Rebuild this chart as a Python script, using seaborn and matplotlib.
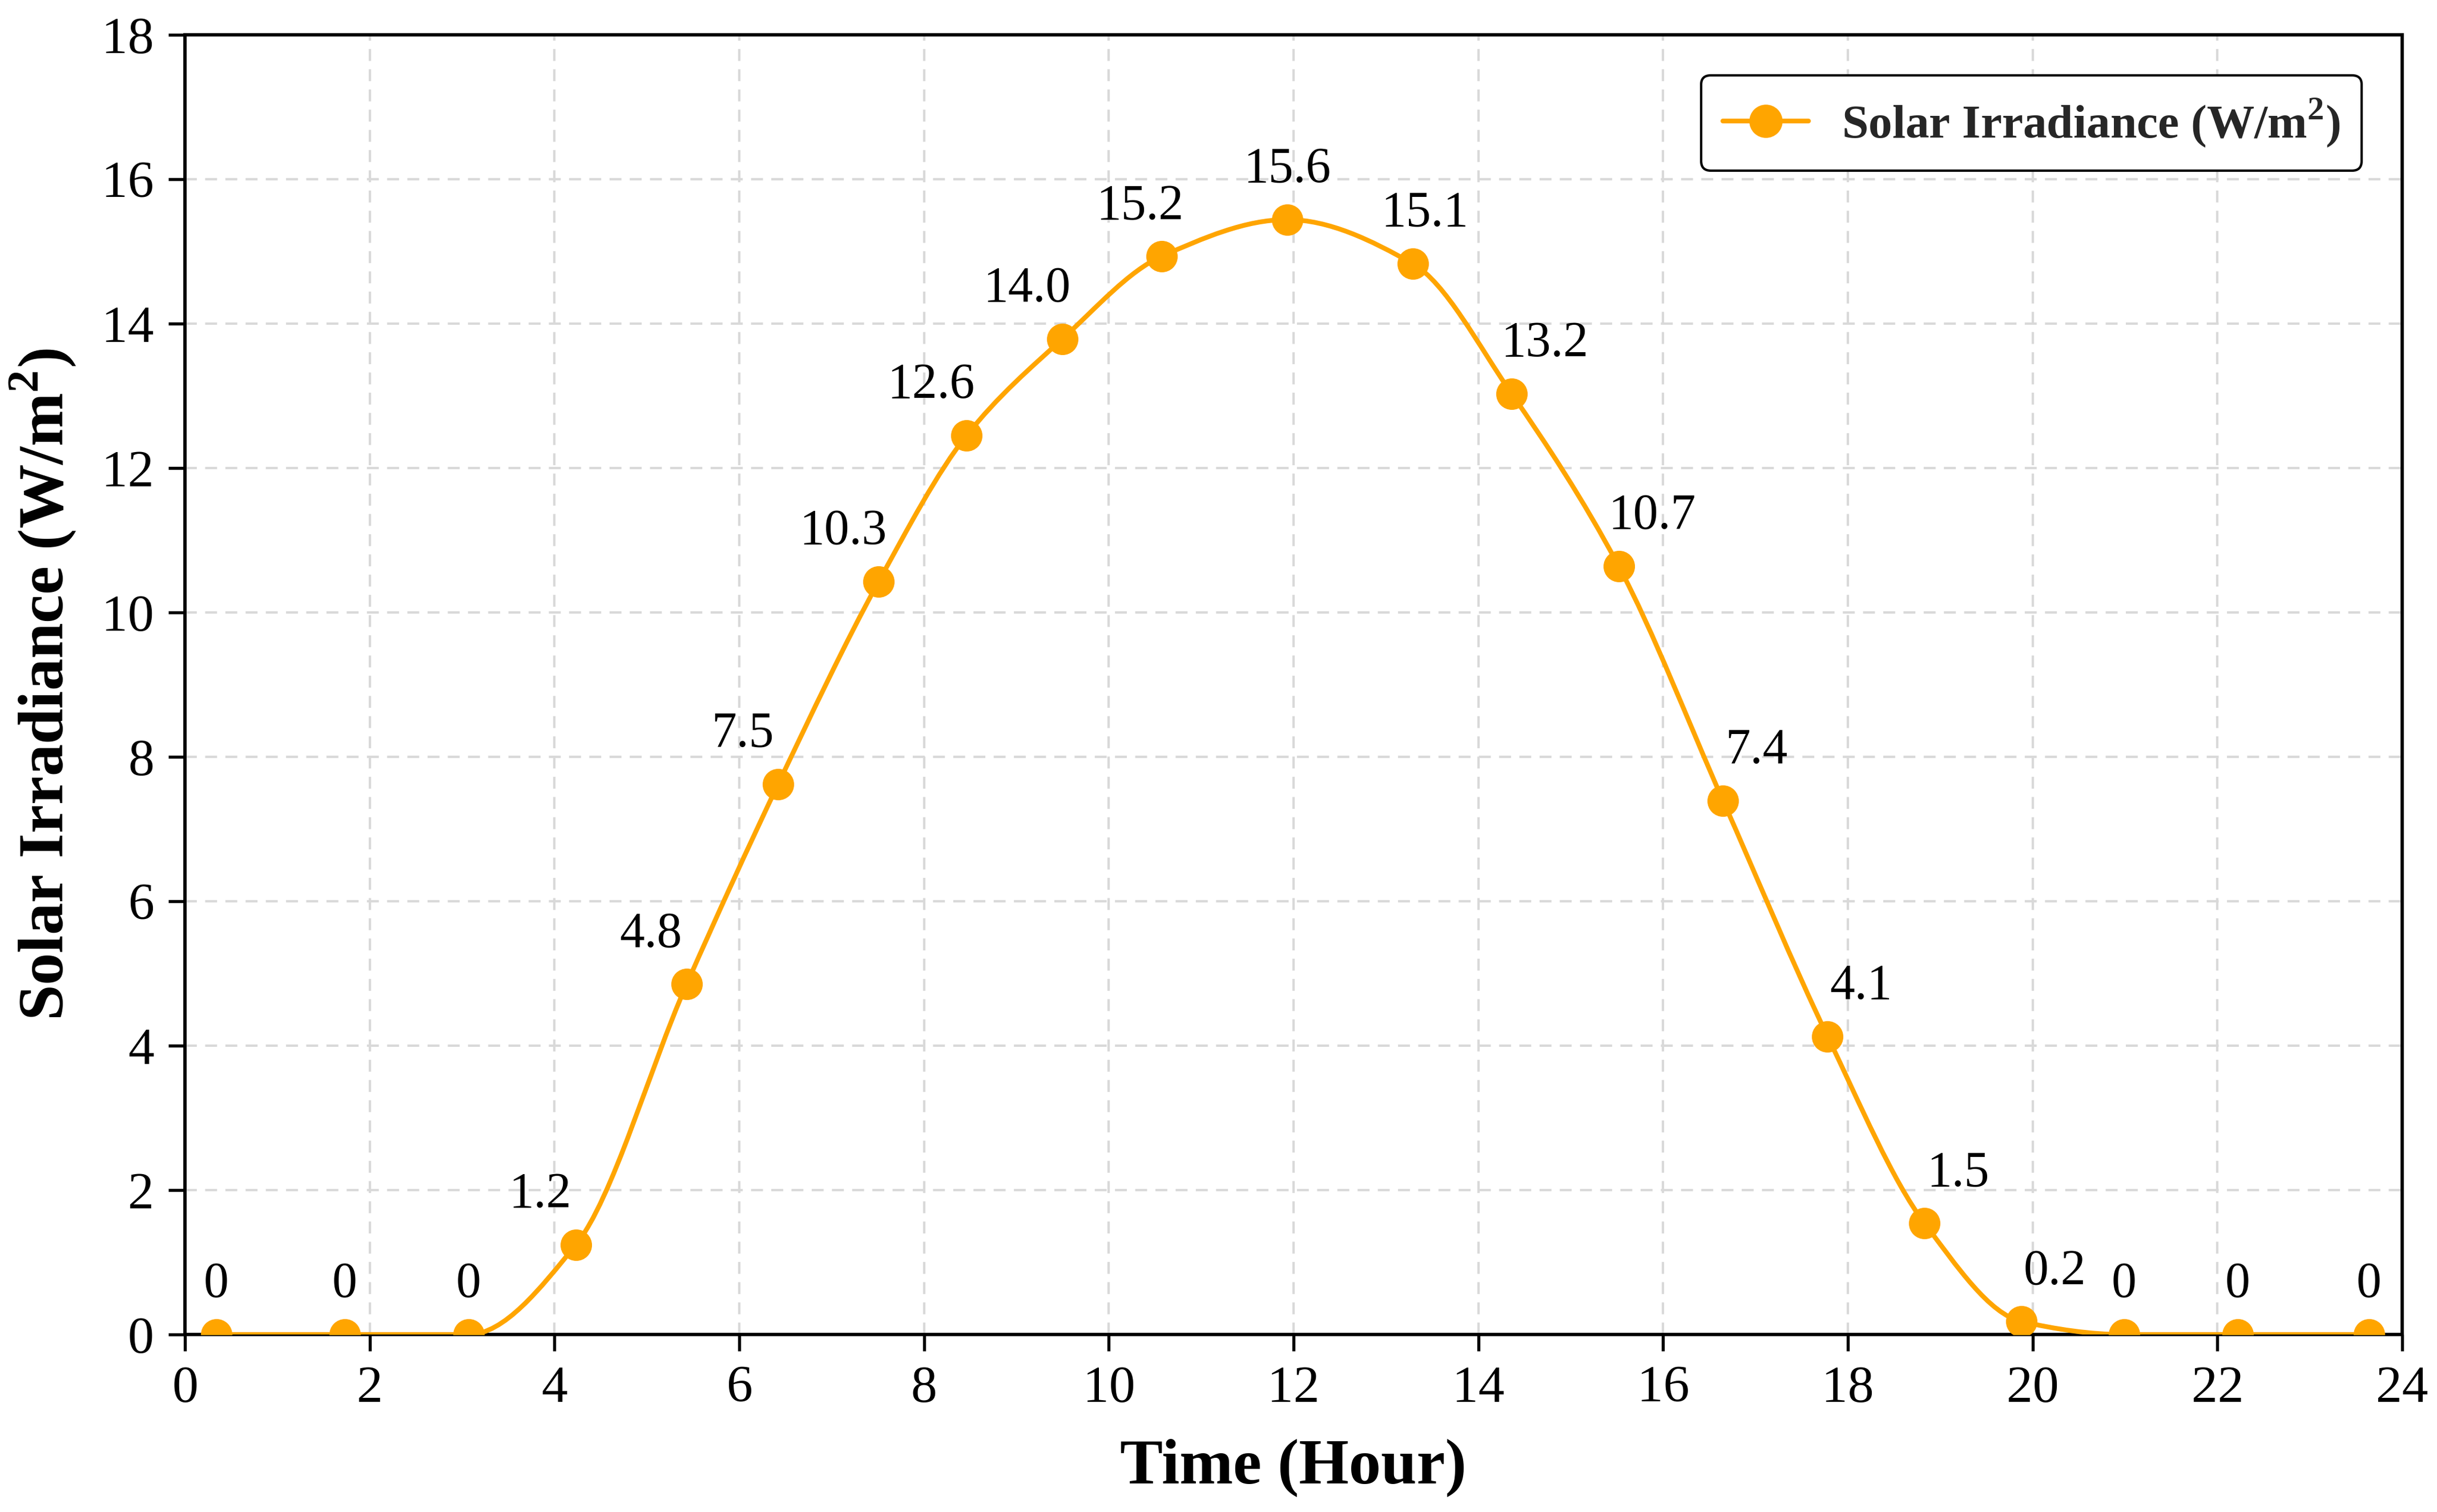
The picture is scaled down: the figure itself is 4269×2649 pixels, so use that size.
import numpy as np
import pandas as pd
import matplotlib
matplotlib.use("Agg")
import matplotlib.pyplot as plt
import seaborn as sns
from matplotlib.path import Path
from matplotlib.patches import PathPatch
from matplotlib.lines import Line2D

# values
hours = [0.34, 1.73, 3.07, 4.23, 5.43, 6.42, 7.51, 8.46, 9.50, 10.57, 11.93,
         13.29, 14.36, 15.52, 16.65, 17.78, 18.83, 19.88, 20.99, 22.22, 23.64]
irradiance = [0, 0, 0, 1.24, 4.85, 7.62, 10.43, 12.45, 13.79, 14.93, 15.44,
              14.83, 13.03, 10.64, 7.39, 4.13, 1.54, 0.18, 0, 0, 0]
point_labels = ["0", "0", "0", "1.2", "4.8", "7.5", "10.3", "12.6", "14.0", "15.2", "15.6",
                "15.1", "13.2", "10.7", "7.4", "4.1", "1.5", "0.2", "0", "0", "0"]
x_ticks = list(range(0, 25, 2))
y_ticks = list(range(0, 19, 2))
series_name = r"Solar Irradiance (W/m$^{\mathbf{2}}$)"

ORANGE = "#FFA500"
FONT = ["Liberation Serif", "DejaVu Serif"]

df = pd.DataFrame({"hour": hours, "irr": irradiance, "label": point_labels})


def pchip_slopes(x, y):
    """Monotone cubic slopes, so the drawn curve stays flat where the data is flat."""
    x = np.asarray(x, float)
    y = np.asarray(y, float)
    h = np.diff(x)
    delta = np.diff(y) / h
    d = np.zeros_like(y)
    for k in range(1, len(x) - 1):
        if delta[k - 1] * delta[k] > 0:
            w1 = 2 * h[k] + h[k - 1]
            w2 = h[k] + 2 * h[k - 1]
            d[k] = (w1 + w2) / (w1 / delta[k - 1] + w2 / delta[k])
    d[0] = delta[0]
    d[-1] = delta[-1]
    return d


def smooth_path(x, y):
    # cubic hermite segments drawn as bezier curves
    d = pchip_slopes(x, y)
    verts = [(x[0], y[0])]
    codes = [Path.MOVETO]
    for i in range(len(x) - 1):
        h = x[i + 1] - x[i]
        verts += [(x[i] + h / 3, y[i] + h * d[i] / 3),
                  (x[i + 1] - h / 3, y[i + 1] - h * d[i + 1] / 3),
                  (x[i + 1], y[i + 1])]
        codes += [Path.CURVE4] * 3
    return Path(verts, codes)


sns.set_theme(style="whitegrid")
plt.rcParams["font.family"] = FONT
plt.rcParams["mathtext.fontset"] = "custom"
plt.rcParams["mathtext.rm"] = "Liberation Serif"
plt.rcParams["mathtext.bf"] = "Liberation Serif:bold"

fig = plt.figure(figsize=(4269 / 300, 2649 / 300), dpi=300)
ax = fig.add_axes([0.0759, 0.1174, 0.9098, 0.8596])

ax.add_patch(PathPatch(smooth_path(df["hour"].values, df["irr"].values),
                       fill=False, edgecolor=ORANGE, lw=2.0, zorder=3))
sns.scatterplot(data=df, x="hour", y="irr", ax=ax, color=ORANGE, edgecolor=ORANGE,
                s=175, linewidth=0, zorder=4, legend=False)

# value labels: left of the point on the rise, right on the fall
peak = int(np.argmax(irradiance))
for i, row in df.iterrows():
    if row["irr"] == 0 or i == peak:
        dx = 0
    elif abs(i - peak) == 1:
        dx = -9 if i < peak else 5
    else:
        dx = -15 if i < peak else 14
    ax.annotate(row["label"], (row["hour"], row["irr"]), xytext=(dx, 21),
                textcoords="offset points", ha="center", va="center",
                fontsize=21, color="black", zorder=5)

ax.set_xlim(0, 24)
ax.set_ylim(0, 18)
ax.set_xticks(x_ticks)
ax.set_yticks(y_ticks)
ax.tick_params(axis="both", which="major", labelsize=22, colors="black",
               bottom=True, left=True, direction="out", length=7, width=1.3, pad=6)

ax.grid(True, color="#d9d9d9", linestyle=(0, (5, 3.5)), linewidth=1.0)
ax.set_facecolor("white")
for side in ["left", "right", "top", "bottom"]:
    ax.spines[side].set_color("black")
    ax.spines[side].set_linewidth(1.4)

ax.set_xlabel("Time (Hour)", fontsize=27, fontweight="bold", color="black", labelpad=11)
ax.set_ylabel(series_name, fontsize=27, fontweight="bold", color="black", labelpad=10)

handle = Line2D([], [], color=ORANGE, lw=2.0, marker="o", markersize=13)
leg = ax.legend([handle], [series_name], loc="upper right", fancybox=True, framealpha=1,
                edgecolor="black", handlelength=1.8, handletextpad=0.7, borderpad=0.45,
                borderaxespad=0.85, prop={"family": FONT, "weight": "bold", "size": 20})
leg.get_frame().set_linewidth(1.0)

fig.savefig("out.png", dpi=300, facecolor="white")
